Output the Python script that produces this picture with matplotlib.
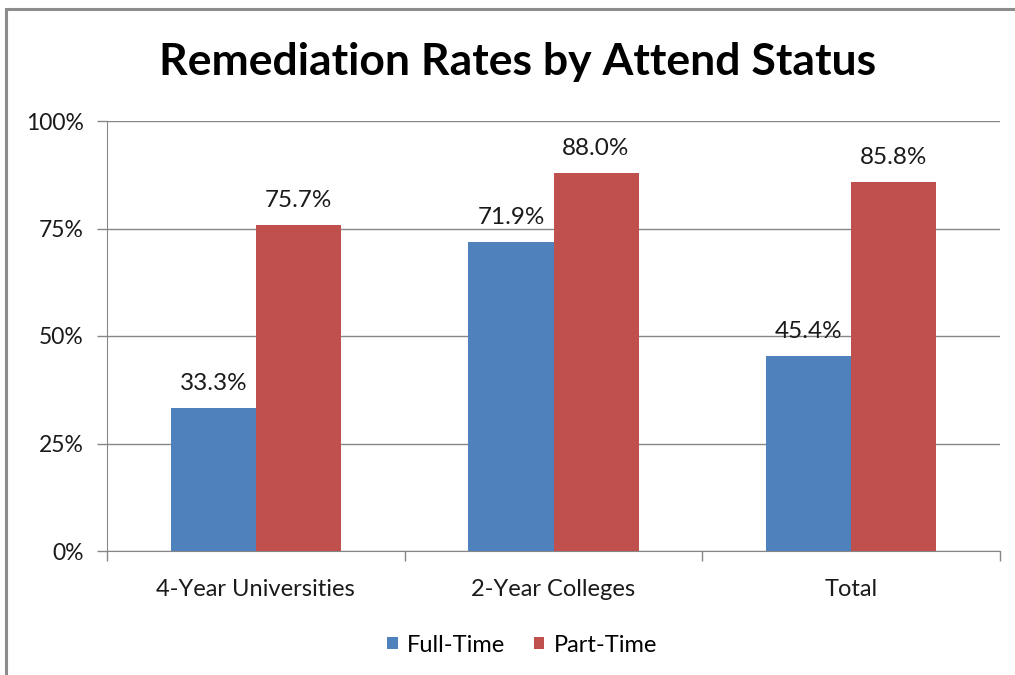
import matplotlib
matplotlib.use("Agg")
import matplotlib.pyplot as plt
import numpy as np
from matplotlib.patches import Rectangle

categories = ["4-Year Universities", "2-Year Colleges", "Total"]
series_names = ["Full-Time", "Part-Time"]
full_time = [33.3, 71.9, 45.4]
part_time = [75.7, 88.0, 85.8]
y_ticks = [0, 25, 50, 75, 100]
y_tick_labels = ["0%", "25%", "50%", "75%", "100%"]
colors = ["#4F81BD", "#C0504D"]

FONT = "Lato"
W, H = 1015, 675
fig = plt.figure(figsize=(W / 100, H / 100), dpi=100)
fig.patch.set_facecolor("white")

# outer chart border
fig.add_artist(Rectangle((6 / W, -0.1), 1.2, 1 - 9 / H + 0.1, transform=fig.transFigure,
                         fill=False, edgecolor="#8C8C8C", linewidth=2.2))

ax = fig.add_axes([107 / W, 1 - 551 / H, (1000 - 107) / W, (551 - 121) / H])
x = np.arange(len(categories))
bw = 1 / 3.5
b1 = ax.bar(x - bw / 2, full_time, bw, color=colors[0], label=series_names[0], zorder=3)
b2 = ax.bar(x + bw / 2, part_time, bw, color=colors[1], label=series_names[1], zorder=3)

for bars, vals in ((b1, full_time), (b2, part_time)):
    for r, v in zip(bars, vals):
        ax.annotate(f"{v:.1f}%", (r.get_x() + r.get_width() / 2, v), xytext=(0, 14),
                    textcoords="offset pixels", ha="center", va="bottom",
                    fontsize=17.5, family=FONT, color="#1a1a1a")

ax.set_xlim(-0.5, len(categories) - 0.5)
ax.set_ylim(0, 100)
ax.set_yticks(y_ticks)
ax.set_yticklabels(y_tick_labels, family=FONT, fontsize=16.5, color="#1a1a1a")
ax.set_xticks(x)
ax.set_xticklabels(categories, family=FONT, fontsize=17, color="#1a1a1a")
ax.tick_params(axis="x", length=0, pad=20)
ax.tick_params(axis="y", length=7.2, width=1, color="#868686", pad=9.4)
# category boundary ticks
ax.set_xticks(np.arange(-0.5, len(categories), 1), minor=True)
ax.tick_params(axis="x", which="minor", length=7.2, width=1, color="#868686")
ax.yaxis.grid(True, color="#868686", linewidth=1)
ax.set_axisbelow(True)
for s in ["top", "right"]:
    ax.spines[s].set_visible(False)
ax.spines["left"].set_color("#868686")
ax.spines["bottom"].set_color("#868686")

fig.text(518 / W, 1 - 62 / H, "Remediation Rates by Attend Status", ha="center", va="center",
         fontsize=32, fontweight="bold", family=FONT, color="black")

leg = fig.legend(handles=[b1, b2], labels=series_names, loc="center",
                 bbox_to_anchor=(522 / W, 1 - 645 / H), ncol=2, frameon=False,
                 prop={"family": FONT, "size": 17}, handlelength=0.45, handleheight=0.45,
                 handletextpad=0.4, columnspacing=1.2)

fig.savefig("out.png", dpi=100, facecolor="white")
